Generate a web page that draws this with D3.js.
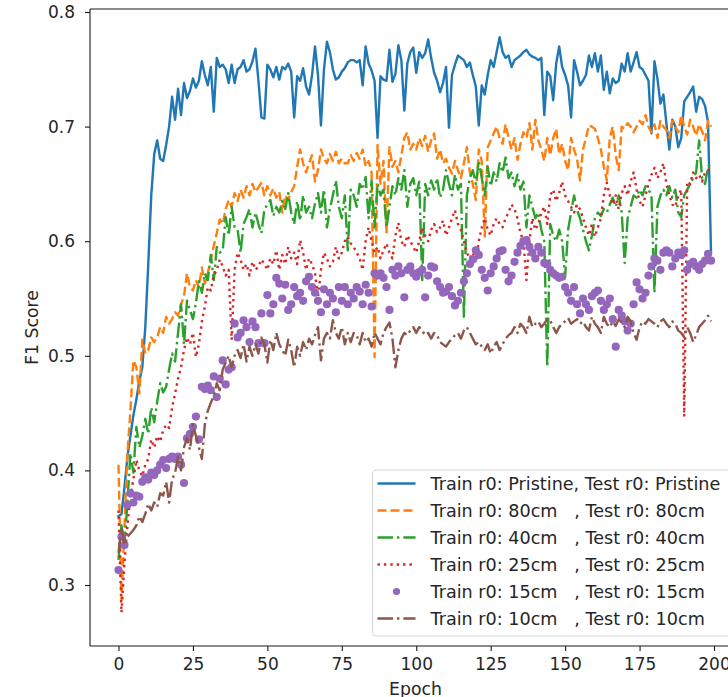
<!DOCTYPE html>
<html>
<head>
<meta charset="utf-8">
<script src="https://cdn.jsdelivr.net/npm/d3@7"></script>
<style>
  html, body { margin: 0; padding: 0; background: #fff; }
  svg { display: block; }
  text { font-family: "DejaVu Sans", sans-serif; fill: #262626; }
</style>
</head>
<body>
<svg id="chart" width="728" height="697"></svg>
<script>
// F1 score per epoch for each train/test radius configuration
const epochs = d3.range(0, 200);

const pristine = [
  0.360,0.362,0.385,0.412,0.430,0.448,0.462,0.478,0.490,0.525,
  0.580,0.640,0.676,0.688,0.672,0.670,0.684,0.700,0.726,0.706,
  0.733,0.710,0.738,0.725,0.731,0.742,0.734,0.740,0.757,0.745,
  0.736,0.752,0.713,0.760,0.752,0.754,0.750,0.738,0.754,0.738,
  0.750,0.752,0.758,0.748,0.750,0.757,0.768,0.740,0.708,0.707,
  0.754,0.750,0.743,0.752,0.741,0.752,0.750,0.755,0.748,0.708,
  0.744,0.740,0.751,0.735,0.728,0.745,0.770,0.745,0.701,0.750,
  0.774,0.765,0.750,0.741,0.743,0.748,0.751,0.756,0.758,0.758,
  0.756,0.758,0.736,0.770,0.755,0.749,0.740,0.690,0.744,0.741,
  0.740,0.767,0.739,0.746,0.771,0.758,0.714,0.755,0.765,0.769,
  0.747,0.765,0.760,0.764,0.776,0.760,0.747,0.740,0.730,0.738,
  0.752,0.699,0.745,0.754,0.762,0.760,0.758,0.752,0.756,0.745,
  0.735,0.701,0.736,0.728,0.745,0.758,0.752,0.765,0.778,0.765,
  0.760,0.762,0.752,0.758,0.760,0.762,0.765,0.767,0.763,0.761,
  0.760,0.758,0.760,0.710,0.748,0.744,0.723,0.755,0.770,0.752,
  0.745,0.736,0.708,0.758,0.748,0.736,0.740,0.745,0.762,0.752,
  0.764,0.748,0.762,0.732,0.748,0.729,0.742,0.738,0.740,0.755,
  0.748,0.764,0.748,0.756,0.765,0.752,0.750,0.745,0.740,0.694,
  0.757,0.742,0.720,0.728,0.703,0.680,0.706,0.700,0.682,0.690,
  0.722,0.726,0.730,0.735,0.713,0.726,0.724,0.718,0.704,0.590
];

const cm80 = [
  0.405,0.287,0.350,0.415,0.452,0.496,0.490,0.467,0.514,0.502,
  0.505,0.516,0.512,0.516,0.525,0.520,0.534,0.528,0.532,0.538,
  0.535,0.545,0.552,0.572,0.560,0.557,0.566,0.560,0.577,0.563,
  0.572,0.584,0.596,0.607,0.619,0.615,0.628,0.636,0.630,0.642,
  0.635,0.645,0.638,0.648,0.640,0.650,0.643,0.647,0.651,0.640,
  0.648,0.640,0.646,0.638,0.643,0.625,0.640,0.636,0.643,0.648,
  0.665,0.680,0.668,0.660,0.668,0.675,0.652,0.662,0.680,0.672,
  0.668,0.676,0.670,0.678,0.668,0.672,0.668,0.668,0.675,0.670,
  0.677,0.672,0.680,0.665,0.670,0.660,0.499,0.684,0.650,0.670,
  0.607,0.682,0.665,0.670,0.660,0.675,0.690,0.695,0.680,0.685,
  0.680,0.690,0.683,0.692,0.678,0.688,0.694,0.672,0.680,0.668,
  0.672,0.664,0.659,0.670,0.662,0.655,0.668,0.682,0.660,0.650,
  0.636,0.680,0.670,0.604,0.682,0.688,0.694,0.700,0.690,0.685,
  0.702,0.690,0.680,0.690,0.671,0.685,0.695,0.690,0.703,0.680,
  0.706,0.688,0.680,0.670,0.690,0.675,0.690,0.698,0.676,0.685,
  0.670,0.662,0.690,0.680,0.672,0.653,0.680,0.690,0.701,0.700,
  0.698,0.690,0.680,0.665,0.653,0.690,0.700,0.675,0.662,0.700,
  0.698,0.703,0.700,0.695,0.700,0.705,0.702,0.710,0.700,0.695,
  0.702,0.690,0.705,0.700,0.697,0.690,0.705,0.700,0.695,0.710,
  0.700,0.693,0.706,0.700,0.692,0.702,0.696,0.688,0.705,0.700
];

const cm40 = [
  0.322,0.352,0.335,0.372,0.415,0.398,0.438,0.420,0.430,0.445,
  0.432,0.455,0.442,0.460,0.476,0.468,0.473,0.488,0.502,0.495,
  0.520,0.545,0.510,0.548,0.540,0.532,0.546,0.565,0.555,0.572,
  0.566,0.588,0.566,0.595,0.590,0.592,0.621,0.605,0.630,0.612,
  0.610,0.590,0.615,0.621,0.628,0.612,0.625,0.615,0.607,0.628,
  0.632,0.636,0.622,0.630,0.625,0.635,0.628,0.642,0.625,0.615,
  0.635,0.618,0.640,0.625,0.630,0.620,0.633,0.642,0.625,0.645,
  0.612,0.628,0.640,0.653,0.630,0.620,0.640,0.592,0.645,0.640,
  0.630,0.650,0.645,0.656,0.620,0.653,0.612,0.650,0.640,0.645,
  0.612,0.630,0.648,0.640,0.655,0.645,0.662,0.630,0.650,0.655,
  0.640,0.652,0.566,0.650,0.640,0.653,0.645,0.655,0.638,0.645,
  0.662,0.650,0.640,0.658,0.645,0.650,0.534,0.640,0.655,0.662,
  0.650,0.670,0.655,0.640,0.665,0.648,0.660,0.652,0.668,0.660,
  0.673,0.655,0.660,0.648,0.658,0.645,0.652,0.612,0.640,0.630,
  0.620,0.625,0.610,0.600,0.490,0.615,0.605,0.600,0.610,0.600,
  0.569,0.610,0.625,0.640,0.627,0.620,0.610,0.600,0.592,0.605,
  0.620,0.625,0.622,0.628,0.625,0.632,0.638,0.630,0.640,0.625,
  0.581,0.620,0.630,0.640,0.638,0.645,0.640,0.648,0.645,0.640,
  0.555,0.630,0.640,0.645,0.640,0.648,0.638,0.645,0.625,0.621,
  0.640,0.645,0.650,0.655,0.660,0.688,0.655,0.650,0.665,0.668
];

const cm25 = [
  0.365,0.276,0.320,0.352,0.378,0.392,0.409,0.400,0.395,0.405,
  0.410,0.427,0.420,0.430,0.425,0.435,0.440,0.437,0.455,0.467,
  0.480,0.490,0.505,0.516,0.510,0.520,0.499,0.510,0.530,0.543,
  0.560,0.557,0.570,0.575,0.584,0.578,0.570,0.575,0.514,0.575,
  0.590,0.584,0.575,0.580,0.570,0.582,0.575,0.578,0.584,0.580,
  0.575,0.585,0.580,0.592,0.575,0.588,0.580,0.595,0.585,0.590,
  0.580,0.601,0.590,0.575,0.585,0.580,0.572,0.551,0.575,0.590,
  0.585,0.578,0.582,0.595,0.585,0.590,0.600,0.604,0.598,0.595,
  0.590,0.585,0.575,0.600,0.612,0.600,0.590,0.595,0.585,0.592,
  0.598,0.590,0.585,0.605,0.616,0.600,0.595,0.605,0.600,0.595,
  0.590,0.600,0.612,0.605,0.600,0.610,0.615,0.608,0.612,0.618,
  0.605,0.612,0.620,0.627,0.615,0.610,0.600,0.590,0.585,0.590,
  0.581,0.600,0.612,0.620,0.610,0.605,0.615,0.620,0.615,0.612,
  0.620,0.625,0.632,0.628,0.620,0.607,0.600,0.566,0.600,0.620,
  0.610,0.615,0.625,0.630,0.615,0.640,0.645,0.635,0.642,0.652,
  0.640,0.635,0.630,0.625,0.632,0.628,0.620,0.612,0.605,0.615,
  0.604,0.612,0.620,0.640,0.651,0.640,0.632,0.640,0.628,0.642,
  0.648,0.640,0.652,0.660,0.645,0.635,0.630,0.640,0.650,0.658,
  0.664,0.655,0.660,0.668,0.650,0.640,0.632,0.630,0.640,0.645,
  0.447,0.652,0.650,0.660,0.655,0.658,0.652,0.660,0.662,0.665
];

const cm15 = [
  0.313,0.342,0.335,0.370,0.380,0.372,0.378,0.377,0.390,0.394,
  0.392,0.398,0.396,0.400,0.405,0.409,0.402,0.410,0.412,0.410,
  0.412,0.405,0.389,0.428,0.432,0.438,0.447,0.427,0.473,0.471,
  0.474,0.470,0.482,0.464,0.480,0.496,0.475,0.488,0.490,0.528,
  0.516,0.520,0.531,0.525,0.512,0.530,0.525,0.511,0.537,0.511,
  0.553,0.537,0.545,0.568,0.563,0.550,0.562,0.540,0.545,0.560,
  0.552,0.555,0.548,0.565,0.569,0.560,0.555,0.548,0.538,0.558,
  0.545,0.555,0.550,0.538,0.560,0.548,0.560,0.545,0.555,0.550,
  0.560,0.556,0.545,0.562,0.555,0.543,0.572,0.570,0.572,0.568,
  0.560,0.540,0.575,0.570,0.578,0.572,0.551,0.575,0.578,0.572,
  0.569,0.573,0.575,0.551,0.570,0.578,0.577,0.565,0.560,0.555,
  0.556,0.560,0.552,0.544,0.548,0.555,0.565,0.572,0.580,0.584,
  0.592,0.588,0.575,0.568,0.557,0.572,0.578,0.585,0.591,0.592,
  0.575,0.565,0.570,0.582,0.590,0.596,0.600,0.601,0.595,0.590,
  0.585,0.595,0.590,0.581,0.580,0.575,0.572,0.570,0.568,0.569,
  0.560,0.555,0.548,0.560,0.545,0.537,0.550,0.545,0.540,0.552,
  0.555,0.557,0.548,0.540,0.545,0.550,0.532,0.508,0.540,0.535,
  0.530,0.522,0.528,0.545,0.564,0.558,0.550,0.555,0.570,0.578,
  0.585,0.583,0.575,0.590,0.592,0.590,0.578,0.585,0.590,0.588,
  0.592,0.575,0.580,0.582,0.578,0.575,0.580,0.583,0.589,0.583
];

const cm10 = [
  0.328,0.350,0.335,0.342,0.345,0.348,0.352,0.360,0.355,0.362,
  0.371,0.365,0.372,0.368,0.380,0.378,0.390,0.372,0.392,0.398,
  0.412,0.400,0.420,0.428,0.418,0.440,0.430,0.420,0.410,0.440,
  0.452,0.459,0.465,0.476,0.470,0.488,0.494,0.500,0.490,0.500,
  0.505,0.498,0.510,0.495,0.508,0.500,0.510,0.502,0.516,0.510,
  0.494,0.514,0.505,0.520,0.510,0.505,0.500,0.514,0.505,0.490,
  0.508,0.500,0.512,0.505,0.515,0.510,0.518,0.525,0.496,0.515,
  0.520,0.515,0.531,0.520,0.515,0.525,0.510,0.520,0.512,0.520,
  0.518,0.510,0.520,0.512,0.515,0.508,0.520,0.515,0.510,0.520,
  0.525,0.529,0.515,0.490,0.505,0.515,0.520,0.518,0.522,0.525,
  0.520,0.525,0.522,0.518,0.520,0.515,0.520,0.518,0.512,0.510,
  0.508,0.512,0.515,0.518,0.520,0.515,0.522,0.525,0.520,0.515,
  0.510,0.512,0.508,0.505,0.510,0.502,0.508,0.512,0.505,0.510,
  0.515,0.518,0.520,0.525,0.520,0.528,0.525,0.520,0.534,0.525,
  0.528,0.530,0.525,0.528,0.532,0.531,0.525,0.520,0.525,0.528,
  0.530,0.533,0.528,0.530,0.532,0.528,0.530,0.525,0.522,0.534,
  0.528,0.525,0.520,0.534,0.528,0.525,0.530,0.526,0.532,0.529,
  0.525,0.534,0.530,0.520,0.514,0.525,0.530,0.528,0.532,0.530,
  0.528,0.525,0.530,0.532,0.528,0.525,0.530,0.528,0.522,0.520,
  0.516,0.525,0.520,0.512,0.518,0.525,0.528,0.531,0.535,0.530
];

const legendLabels = [
  "Train r0: Pristine, Test r0: Pristine",
  "Train r0: 80cm   , Test r0: 80cm",
  "Train r0: 40cm   , Test r0: 40cm",
  "Train r0: 25cm   , Test r0: 25cm",
  "Train r0: 15cm   , Test r0: 15cm",
  "Train r0: 10cm   , Test r0: 10cm"
];
const xTickValues = [0, 25, 50, 75, 100, 125, 150, 175, 200];
const yTickValues = [0.3, 0.4, 0.5, 0.6, 0.7, 0.8];
const xLabel = "Epoch";
const yLabel = "F1 Score";

// line styles (tab10 palette, matplotlib-like dash patterns)
const lw = 2.4;
const series = [
  { values: pristine, color: "#1f77b4", dash: null,            kind: "line" },
  { values: cm80,     color: "#ff7f0e", dash: "9,4",           kind: "line" },
  { values: cm40,     color: "#2ca02c", dash: "15.5,4,2.4,4",  kind: "line" },
  { values: cm25,     color: "#d62728", dash: "2.4,4",         kind: "line" },
  { values: cm15,     color: "#9467bd", dash: null,            kind: "dots" },
  { values: cm10,     color: "#8c564b", dash: "15.5,4,2.4,4",  kind: "line" }
];

const svg = d3.select("#chart");

// plot frame
const frame = { left: 90, top: 9, right: 741, bottom: 646 };

const x = d3.scaleLinear().domain([0, 200]).range([118.5, 714]);
const y = d3.scaleLinear().domain([0.3, 0.8]).range([585, 12]);

svg.append("defs").append("clipPath").attr("id", "plotclip")
  .append("rect")
  .attr("x", frame.left).attr("y", frame.top)
  .attr("width", frame.right - frame.left)
  .attr("height", frame.bottom - frame.top);

const plot = svg.append("g").attr("clip-path", "url(#plotclip)");

const line = d3.line()
  .x((d, i) => x(epochs[i]))
  .y(d => y(d));

series.forEach(s => {
  if (s.kind === "line") {
    plot.append("path")
      .datum(s.values)
      .attr("d", line)
      .attr("fill", "none")
      .attr("stroke", s.color)
      .attr("stroke-width", lw)
      .attr("stroke-linejoin", "round")
      .attr("stroke-linecap", s.dash ? "butt" : "square")
      .attr("stroke-dasharray", s.dash);
  } else {
    plot.append("g").selectAll("circle")
      .data(s.values)
      .join("circle")
      .attr("cx", (d, i) => x(epochs[i]))
      .attr("cy", d => y(d))
      .attr("r", 4.1)
      .attr("fill", s.color);
  }
});

// spines
const spineColor = "#1a1a1a";
svg.append("line").attr("x1", frame.left).attr("x2", frame.left)
  .attr("y1", frame.top).attr("y2", frame.bottom)
  .attr("stroke", spineColor).attr("stroke-width", 1.1);
svg.append("line").attr("x1", frame.left).attr("x2", frame.right)
  .attr("y1", frame.bottom).attr("y2", frame.bottom)
  .attr("stroke", spineColor).attr("stroke-width", 1.1);
svg.append("line").attr("x1", frame.left).attr("x2", frame.right)
  .attr("y1", frame.top).attr("y2", frame.top)
  .attr("stroke", spineColor).attr("stroke-width", 1.1);

// axes
const xAxis = d3.axisBottom(x).tickValues(xTickValues).tickSize(5).tickPadding(7)
  .tickFormat(d3.format("d"));
const gx = svg.append("g").attr("transform", `translate(0,${frame.bottom})`).call(xAxis);
gx.select(".domain").remove();
gx.selectAll(".tick line").attr("stroke", spineColor).attr("stroke-width", 1.1);
gx.selectAll(".tick text").attr("font-size", 17).attr("font-family", "DejaVu Sans").attr("fill", "#262626");

const yAxis = d3.axisLeft(y).tickValues(yTickValues).tickSize(5).tickPadding(10)
  .tickFormat(d3.format(".1f"));
const gy = svg.append("g").attr("transform", `translate(${frame.left},0)`).call(yAxis);
gy.select(".domain").remove();
gy.selectAll(".tick line").attr("stroke", spineColor).attr("stroke-width", 1.1);
gy.selectAll(".tick text").attr("font-size", 17).attr("font-family", "DejaVu Sans").attr("fill", "#262626");

// axis titles
svg.append("text")
  .attr("x", (frame.left + frame.right) / 2).attr("y", 695)
  .attr("text-anchor", "middle").attr("font-size", 17.3)
  .text(xLabel);
svg.append("text")
  .attr("transform", `translate(38,${(frame.top + frame.bottom) / 2}) rotate(-90)`)
  .attr("text-anchor", "middle").attr("font-size", 17.3)
  .text(yLabel);

// legend
const legend = svg.append("g");
legend.append("rect")
  .attr("x", 372.5).attr("y", 470).attr("width", 400).attr("height", 166)
  .attr("rx", 4).attr("fill", "#fff").attr("fill-opacity", 0.8)
  .attr("stroke", "#d6d6d6").attr("stroke-width", 1.1);

const rowY = d3.scaleLinear().domain([0, 5]).range([483.5, 618.5]);
series.forEach((s, i) => {
  const cy = rowY(i);
  if (s.kind === "line") {
    legend.append("line")
      .attr("x1", 377.5).attr("x2", 415.5).attr("y1", cy).attr("y2", cy)
      .attr("stroke", s.color).attr("stroke-width", lw)
      .attr("stroke-dasharray", s.dash);
  } else {
    legend.append("circle").attr("cx", 396.5).attr("cy", cy).attr("r", 3.6).attr("fill", s.color);
  }
  legend.append("text")
    .attr("x", 430.5).attr("y", cy).attr("dy", "0.36em")
    .attr("font-size", 17.6)
    .style("white-space", "pre")
    .attr("xml:space", "preserve")
    .text(legendLabels[i]);
});
</script>
</body>
</html>
